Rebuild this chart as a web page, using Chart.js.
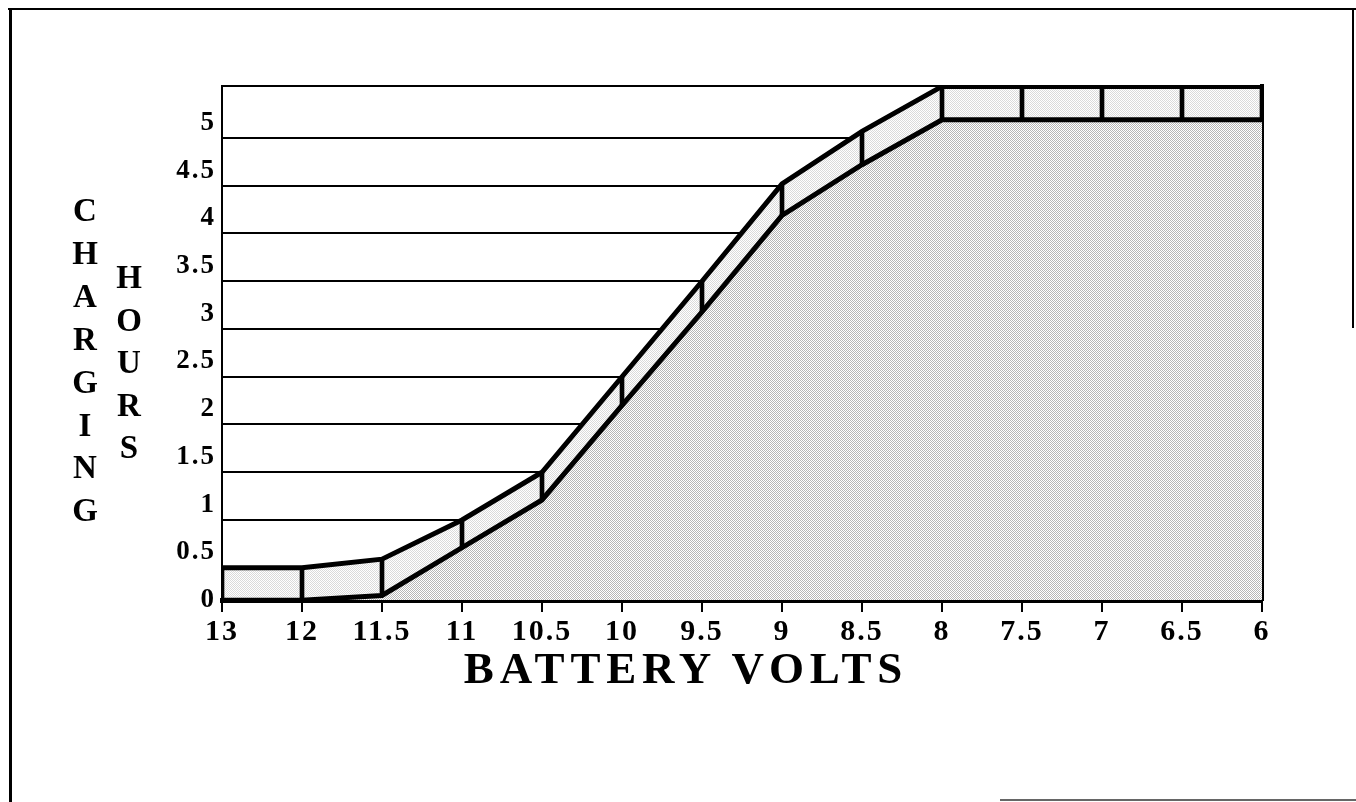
<!DOCTYPE html>
<html>
<head>
<meta charset="utf-8">
<title>Charging hours by battery volts</title>
<script src="https://cdn.jsdelivr.net/npm/chart.js@4.4.1/dist/chart.umd.min.js"></script>
<style>
  html, body { margin: 0; padding: 0; background: #fff; }
  #wrap { position: relative; width: 1356px; height: 802px; overflow: hidden; }
  #chart { position: absolute; left: 0; top: 0; }
  .frame { position: absolute; background: #000; }
  .stack { position: absolute; width: 40px; text-align: center; color: #000;
           font: bold 33px "Liberation Serif", "Times New Roman", serif; }
  #chargingLbl { left: 65px; top: 189px; line-height: 42.9px; }
  #hoursLbl { left: 109px; top: 256px; line-height: 42.5px; }
  #xTitle { position: absolute; left: 386px; top: 646px; width: 600px; text-align: center; color: #000;
            font: bold 45px "Liberation Serif", "Times New Roman", serif; line-height: 44px; letter-spacing: 5.8px; }
</style>
</head>
<body>
<div id="wrap">
  <!-- outer page frame (scan edges) -->
  <div class="frame" style="left:8px;top:8px;width:1348px;height:2px;"></div>
  <div class="frame" style="left:9px;top:8px;width:3px;height:794px;"></div>
  <div class="frame" style="left:1352px;top:8px;width:2px;height:320px;"></div>
  <div class="frame" style="left:1000px;top:799px;width:356px;height:2px;background:#666;"></div>

  <canvas id="chart" width="1356" height="802"></canvas>

  <div class="stack" id="chargingLbl">C<br>H<br>A<br>R<br>G<br>I<br>N<br>G</div>
  <div class="stack" id="hoursLbl">H<br>O<br>U<br>R<br>S</div>
  <div id="xTitle">BATTERY VOLTS</div>
</div>

<script>
// x categories (volts, right to left as on the sheet)
const voltLabels = ["13", "12", "11.5", "11", "10.5", "10", "9.5", "9", "8.5", "8", "7.5", "7", "6.5", "6"];

// labels printed on the hours axis
const hourTicks = [0, 0.5, 1, 1.5, 2, 2.5, 3, 3.5, 4, 4.5, 5];
// ruled lines across the plot
const gridHours = [1, 1.5, 2, 2.5, 3, 3.5, 4, 4.5, 5];

// the charging band: top edge and bottom edge (hours)
const upperHours = [0.5, 0.5, 0.59, 1, 1.5, 2.5, 3.5, 4.52, 5.07, 5.54, 5.54, 5.54, 5.54, 5.54];
const lowerHours = [0.16, 0.16, 0.21, 0.71, 1.21, 2.2, 3.18, 4.19, 4.72, 5.19, 5.19, 5.19, 5.19, 5.19];

Chart.defaults.font.family = '"Liberation Serif", "Times New Roman", serif';
Chart.defaults.color = "#000";

// dithered grey like the old print
function stipple(dot) {
  const c = document.createElement("canvas");
  c.width = 2;
  c.height = 2;
  const g = c.getContext("2d");
  g.fillStyle = "#fff";
  g.fillRect(0, 0, 2, 2);
  g.fillStyle = dot;
  g.fillRect(0, 0, 1, 1);
  g.fillRect(1, 1, 1, 1);
  return g.createPattern(c, "repeat");
}
const grayFill = stipple("#b6b6b6");
const bandFill = stipple("#dadada");

const spacing = {
  id: "spacing",
  beforeDraw(c) {
    c.ctx.letterSpacing = "2px";
  },
};

const noTicks = { display: false };

new Chart(document.getElementById("chart"), {
  type: "line",
  data: {
    labels: voltLabels,
    datasets: [
      {
        label: "lower",
        data: lowerHours,
        borderColor: "#000",
        borderWidth: 5,
        backgroundColor: grayFill,
        fill: "start",
        pointRadius: 0,
        tension: 0,
        order: 2,
        yAxisID: "y",
      },
      {
        label: "upper",
        data: upperHours,
        borderColor: "#000",
        borderWidth: 5,
        backgroundColor: bandFill,
        fill: "-1",
        pointRadius: 0,
        tension: 0,
        order: 2,
        yAxisID: "y",
      },
      {
        type: "bar",
        label: "dividers",
        data: voltLabels.map((_, i) => [lowerHours[i], upperHours[i]]),
        backgroundColor: "#000",
        barThickness: 4,
        clip: 0,
        order: 0,
        yAxisID: "y",
      },
    ],
  },
  options: {
    responsive: false,
    animation: false,
    layout: { padding: { left: 152, top: 86, right: 94, bottom: 142 } },
    plugins: { legend: { display: false }, tooltip: { enabled: false } },
    scales: {
      x: {
        type: "category",
        position: "bottom",
        offset: false,
        grid: { drawOnChartArea: false, drawTicks: true, tickLength: 12, color: "#000", lineWidth: 2, offset: false },
        border: { display: true, color: "#000", width: 5 },
        ticks: { font: { size: 30, weight: "bold" }, padding: 2, maxRotation: 0, autoSkip: false },
        afterFit(s) { s.height = 60; },
      },
      xTop: {
        type: "linear",
        position: "top",
        min: 0,
        max: 1,
        ticks: noTicks,
        grid: { display: false, drawTicks: false },
        border: { display: true, color: "#000", width: 2 },
        afterFit(s) { s.height = 0; },
      },
      y: {
        type: "linear",
        position: "left",
        min: 0.1623,
        max: 5.5445,
        ticks: noTicks,
        grid: { color: "#000", lineWidth: 2, drawTicks: false },
        border: { display: false },
        afterBuildTicks(s) { s.ticks = gridHours.map((v) => ({ value: v })); },
        afterFit(s) { s.width = 0; },
      },
      y2: {
        type: "linear",
        position: "left",
        min: 0,
        max: 5.388,
        grid: { display: false, drawTicks: false },
        border: { display: true, color: "#000", width: 2 },
        ticks: { font: { size: 27, weight: "bold" }, padding: 6, callback: (v) => String(v) },
        afterBuildTicks(s) { s.ticks = hourTicks.map((v) => ({ value: v })); },
        afterFit(s) { s.width = 70; },
      },
      yRight: {
        type: "linear",
        position: "right",
        min: 0,
        max: 1,
        ticks: noTicks,
        grid: { display: false, drawTicks: false },
        border: { display: true, color: "#000", width: 4 },
        afterFit(s) { s.width = 0; },
      },
    },
  },
  plugins: [spacing],
});
</script>
</body>
</html>
